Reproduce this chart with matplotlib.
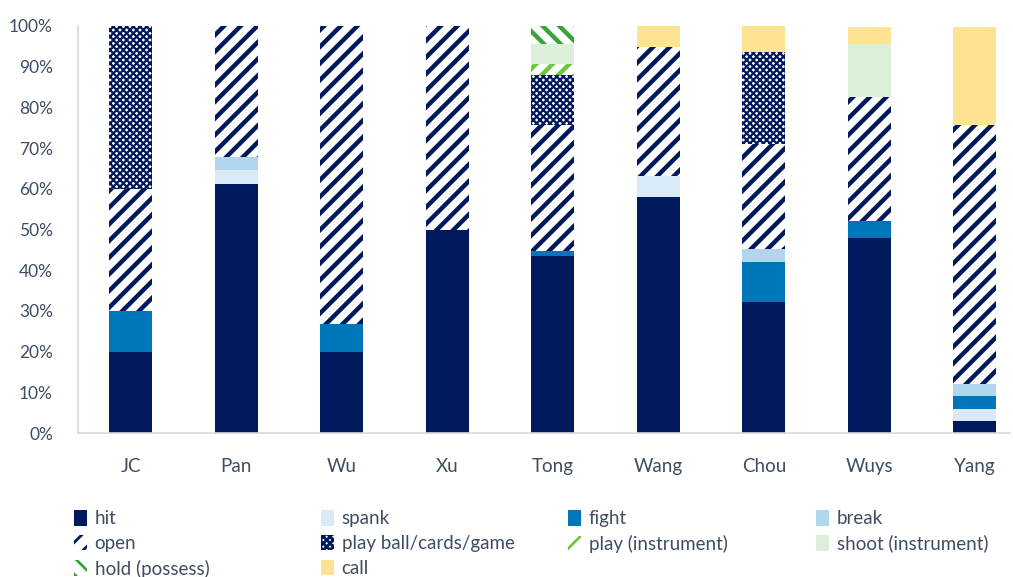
import matplotlib
matplotlib.use("Agg")
import matplotlib.pyplot as plt
import numpy as np
from matplotlib.patches import Patch
from matplotlib.ticker import PercentFormatter

categories = ["JC", "Pan", "Wu", "Xu", "Tong", "Wang", "Chou", "Wuys", "Yang"]

hit        = [20.0, 61.3, 20.0, 50.0, 43.6, 57.9, 32.3, 47.8, 3.0]
spank      = [0.0, 3.2, 0.0, 0.0, 0.0, 5.3, 0.0, 0.0, 3.0]
fight      = [10.0, 0.0, 6.7, 0.0, 1.0, 0.0, 9.7, 4.3, 3.0]
brk        = [0.0, 3.2, 0.0, 0.0, 0.0, 0.0, 3.2, 0.0, 3.0]
open_      = [30.0, 32.3, 73.3, 50.0, 31.1, 31.6, 25.8, 30.4, 63.6]
playball   = [40.0, 0.0, 0.0, 0.0, 12.3, 0.0, 22.6, 0.0, 0.0]
play_instr = [0.0, 0.0, 0.0, 0.0, 2.6, 0.0, 0.0, 0.0, 0.0]
shoot      = [0.0, 0.0, 0.0, 0.0, 5.1, 0.0, 0.0, 13.0, 0.0]
hold       = [0.0, 0.0, 0.0, 0.0, 4.3, 0.0, 0.0, 0.0, 0.0]
call       = [0.0, 0.0, 0.0, 0.0, 0.0, 5.3, 6.5, 4.3, 24.2]

series_labels = ["hit", "spank", "fight", "break", "open", "play ball/cards/game",
                 "play (instrument)", "shoot (instrument)", "hold (possess)", "call"]
series_values = [hit, spank, fight, brk, open_, playball, play_instr, shoot, hold, call]

NAVY = "#00195c"
styles = [
    dict(face=NAVY, hatch=None, hc=None, hlw=1),
    dict(face="#d9e9f6", hatch=None, hc=None, hlw=1),
    dict(face="#0076b9", hatch=None, hc=None, hlw=1),
    dict(face="#b2d5ee", hatch=None, hc=None, hlw=1),
    dict(face="white", hatch="//", hc=NAVY, hlw=3.2),
    dict(face="white", hatch="xxxxx", hc=NAVY, hlw=1.6),
    dict(face="white", hatch="//", hc="#6cc644", hlw=3.2),
    dict(face="#dcefd8", hatch=None, hc=None, hlw=1),
    dict(face="white", hatch="\\\\", hc="#3aa43a", hlw=3.2),
    dict(face="#fee393", hatch=None, hc=None, hlw=1),
]

plt.rcParams['font.family'] = ['Lato', 'DejaVu Sans']
TXT = "#3f4d62"

fig = plt.figure(figsize=(10.13, 5.77), dpi=100)
ax = fig.add_axes([78/1013, 1 - 433/577, (1010-78)/1013, (433-26)/577])

x = np.arange(len(categories))
bottom = np.zeros(len(categories))
handles = []
for lab, vals, st in zip(series_labels, series_values, styles):
    v = np.array(vals) / 100.0
    with plt.rc_context({'hatch.linewidth': st['hlw']}):
        if st['hatch']:
            ax.bar(x, v, 0.41, bottom=bottom, color=st['face'], edgecolor=st['hc'],
                   hatch=st['hatch'], linewidth=0)
            h = Patch(facecolor=st['face'], edgecolor=st['hc'], hatch=st['hatch'], linewidth=0)
        else:
            ax.bar(x, v, 0.41, bottom=bottom, color=st['face'], linewidth=0)
            h = Patch(facecolor=st['face'], linewidth=0)
    handles.append(h)
    bottom += v

ax.set_ylim(0, 1.0)
ax.set_xlim(-0.5, 8.5 - 17.5/105.5)
ax.yaxis.set_major_formatter(PercentFormatter(1.0, decimals=0))
ax.set_yticks(np.arange(0, 1.01, 0.1))
ax.set_xticks(x)
ax.set_xticklabels(categories)
ax.tick_params(axis='both', length=0, labelsize=12.5, colors=TXT)
ax.tick_params(axis='x', pad=18, labelsize=13.5)
ax.tick_params(axis='y', pad=18)
for s in ['top', 'right']:
    ax.spines[s].set_visible(False)
for s in ['left', 'bottom']:
    ax.spines[s].set_color("#d9d9d9")
    ax.spines[s].set_linewidth(1.2)

# legend laid out row-wise in 4 evenly spaced columns
columns = [[0, 4, 8], [1, 5, 9], [2, 6], [3, 7]]
col_x = [74, 321, 568, 816]
for cx, idxs in zip(col_x, columns):
    with plt.rc_context({'hatch.linewidth': 2}):
        leg = fig.legend([handles[i] for i in idxs], [series_labels[i] for i in idxs],
                         ncol=1, loc='upper left', bbox_to_anchor=(cx/1013, 1 - 510/577),
                         frameon=False, fontsize=13.5, handlelength=0.7, handleheight=0.9,
                         handletextpad=0.4, labelspacing=0.4,
                         borderaxespad=0, borderpad=0)
    for t in leg.get_texts():
        t.set_color(TXT)

fig.savefig("out.png", dpi=100)
